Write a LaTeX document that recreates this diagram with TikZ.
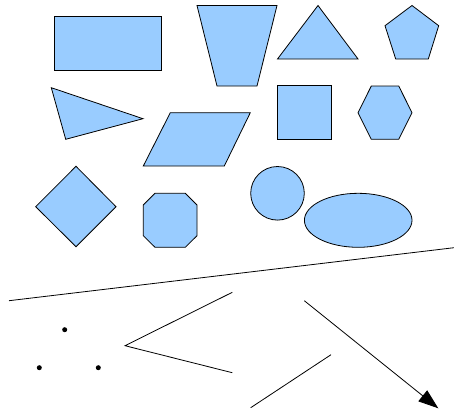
\documentclass[tikz,border=0pt]{standalone}
\usetikzlibrary{arrows.meta}
\definecolor{shapefill}{HTML}{99CCFF}
\tikzset{
  shp/.style={draw=black, fill=shapefill, line width=0.8pt, line join=miter},
  ln/.style={draw=black, line width=0.8pt},
  dotmark/.style={fill=black}
}
\begin{document}
\begin{tikzpicture}[x=1pt,y=-1pt]
\useasboundingbox (0,0) rectangle (454,412);
% rectangle
\path[shp] (54,16.5) rectangle (161.5,70.5);
% trapezoid
\path[shp] (197,5.5) -- (277,5.5) -- (257,86) -- (217,86) -- cycle;
% isosceles triangle
\path[shp] (277.5,59) -- (358,59) -- (318,5.5) -- cycle;
% pentagon
\path[shp] (412,5.5) -- (438.7,25.7) -- (428.3,59) -- (395.7,59) -- (385,25.7) -- cycle;
% triangle
\path[shp] (51.3,87.7) -- (143,118.7) -- (65.7,139.3) -- cycle;
% parallelogram
\path[shp] (143.3,166) -- (224.3,166) -- (250.3,112.7) -- (170.3,112.7) -- cycle;
% square
\path[shp] (277.3,85.7) rectangle (331.3,139.3);
% hexagon
\path[shp] (358,112.7) -- (371.3,86) -- (398.7,86) -- (412,112.7) -- (398.7,139.3) -- (371.3,139.3) -- cycle;
% diamond
\path[shp] (76,166.3) -- (116,206.7) -- (76,246.7) -- (35.7,206.7) -- cycle;
% octagon
\path[shp] (155,193.3) -- (185.3,193.3) -- (197,205) -- (197,235.7) -- (185.3,247.3) -- (155,247.3) -- (143.3,235.7) -- (143.3,205) -- cycle;
% circle
\path[shp] (277.5,193.3) circle[radius=26.8];
% ellipse
\path[shp] (358.2,220.3) ellipse[x radius=53.8, y radius=27];
% long line
\coordinate (la) at (9,300.7);
\coordinate (lb) at (454,247.7);
\draw[ln] (la) -- (lb);
% dots
\fill[dotmark] (64.7,329.7) circle[radius=2.5];
\fill[dotmark] (39.3,367.7) circle[radius=2.5];
\fill[dotmark] (98.3,367.7) circle[radius=2.5];
% polyline
\coordinate (pa) at (232.3,292.3);
\coordinate (pb) at (125,345.7);
\coordinate (pc) at (232.3,372.7);
\draw[ln] (pa) -- (pb) -- (pc);
% short line
\coordinate (sa) at (331,354.7);
\coordinate (sb) at (250.7,407.7);
\draw[ln] (sa) -- (sb);
% arrow
\coordinate (aa) at (304.3,300.7);
\coordinate (ab) at (438.3,408.3);
\draw[ln, -{Triangle[length=20pt,width=14pt]}] (aa) -- (ab);
\end{tikzpicture}
\end{document}
